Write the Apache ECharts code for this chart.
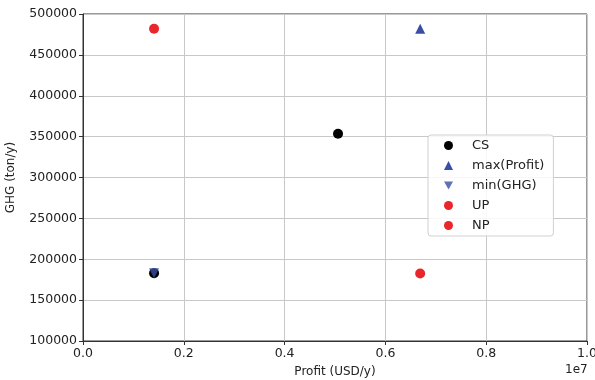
<!DOCTYPE html>
<html><head><meta charset="utf-8">
<script src="https://cdn.jsdelivr.net/npm/echarts@6/dist/echarts.min.js"></script>
<style>html,body{margin:0;padding:0;background:#fff}#c{width:595px;height:380px}</style>
</head><body><div id="c"></div>
<script>
const xTicks = [0, 2e6, 4e6, 6e6, 8e6, 1e7];
const csData = [[5.06e6, 353500], [1.41e6, 183000]];
const maxProfitData = [[6.69e6, 482000]];
const minGhgData = [[1.41e6, 183000]];
const upData = [[6.69e6, 182500]];
const npData = [[1.41e6, 482000]];

const RED = '#e8262c', BLUE = '#3a4ea3', BLACK = '#000';
const FONT = 'DejaVu Sans';
const downTri = 'path://M0,0 L10,0 L5,9 Z';
const chart = echarts.init(document.getElementById('c'), null, {renderer: 'canvas'});
chart.setOption({
  animation: false,
  backgroundColor: '#fff',
  textStyle: {fontFamily: FONT},
  grid: {left: 83, right: 8, top: 14, bottom: 39, show: true, borderColor: '#333', borderWidth: 1,
    containLabel: false, outerBoundsMode: 'none'},
  xAxis: {
    type: 'value', min: 0, max: 1e7, interval: 2e6,
    name: 'Profit (USD/y)', nameLocation: 'middle', nameGap: 25,
    nameTextStyle: {fontFamily: FONT, fontSize: 12, color: '#222'},
    axisLine: {show: true, lineStyle: {color: '#333', width: 1}},
    axisTick: {show: true, length: 4, lineStyle: {color: '#333'}},
    axisLabel: {fontFamily: FONT, fontSize: 12.5, color: '#222', margin: 6, showMaxLabel: true, hideOverlap: false,
      formatter: v => (v / 1e7).toFixed(1)},
    splitLine: {show: true, lineStyle: {color: '#c8c8c8', width: 1}}
  },
  yAxis: {
    type: 'value', min: 100000, max: 500000, interval: 50000,
    name: 'GHG (ton/y)', nameLocation: 'middle', nameGap: 66, nameRotate: 90,
    nameTextStyle: {fontFamily: FONT, fontSize: 12, color: '#222'},
    axisLine: {show: true, lineStyle: {color: '#333', width: 1}},
    axisTick: {show: true, length: 4, lineStyle: {color: '#333'}},
    axisLabel: {fontFamily: FONT, fontSize: 12.5, color: '#222', margin: 6, formatter: v => String(v)},
    splitLine: {show: true, lineStyle: {color: '#c8c8c8', width: 1}}
  },
  legend: {
    orient: 'vertical', left: 428, top: 135,
    backgroundColor: 'rgba(255,255,255,0.85)', borderColor: '#d0d0d0', borderWidth: 1, borderRadius: 3,
    padding: [4, 9, 4, 16], itemGap: 7, itemWidth: 9, itemHeight: 9,
    textStyle: {fontFamily: FONT, fontSize: 13, color: '#222', padding: [0, 0, 0, 14]},
    data: [
      {name: 'CS', icon: 'circle'},
      {name: 'max(Profit)', icon: 'triangle'},
      {name: 'min(GHG)', icon: downTri},
      {name: 'UP', icon: 'circle'},
      {name: 'NP', icon: 'circle'}
    ]
  },
  graphic: [{type: 'text', left: 565, top: 364, style: {text: '1e7', font: '12px "DejaVu Sans"', fill: '#222'}}],
  series: [
    {name: 'CS', type: 'scatter', data: csData, symbol: 'circle', symbolSize: 10, itemStyle: {color: BLACK, opacity: 1}, z: 2},
    {name: 'max(Profit)', type: 'scatter', data: maxProfitData, symbol: 'triangle', symbolSize: 10, itemStyle: {color: BLUE, opacity: 1}, z: 3},
    {name: 'min(GHG)', type: 'scatter', data: minGhgData, symbol: 'triangle', symbolRotate: 180, symbolSize: 10, itemStyle: {color: BLUE, opacity: 0.8}, z: 4},
    {name: 'UP', type: 'scatter', data: upData, symbol: 'circle', symbolSize: 10, itemStyle: {color: RED, opacity: 1}, z: 3},
    {name: 'NP', type: 'scatter', data: npData, symbol: 'circle', symbolSize: 10, itemStyle: {color: RED, opacity: 1}, z: 3}
  ]
});
</script></body></html>
